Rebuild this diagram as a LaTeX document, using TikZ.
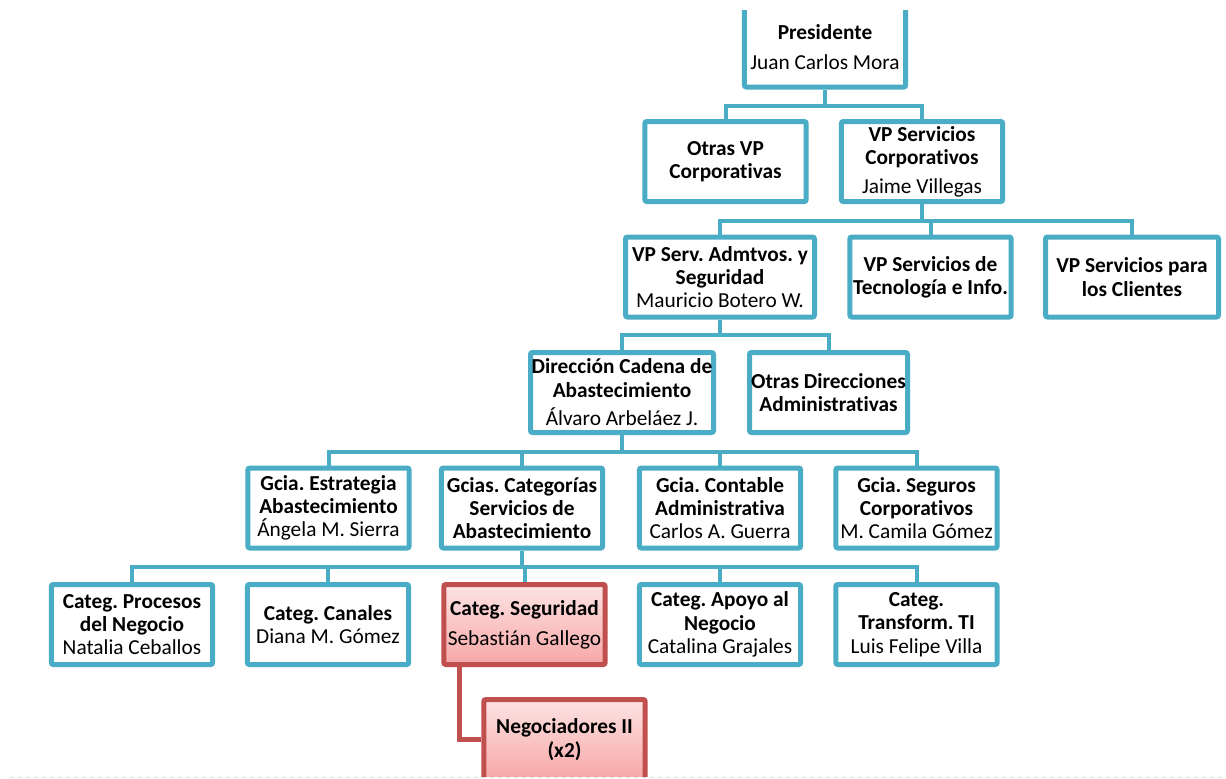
\documentclass[tikz,border=0pt]{standalone}
\usepackage{fontspec}
\setmainfont[Ligatures=NoCommon]{Carlito}
\frenchspacing
\definecolor{orgline}{HTML}{4BACC6}
\definecolor{selline}{HTML}{C0504D}
\definecolor{seltop}{HTML}{FDE3E3}
\definecolor{selbot}{HTML}{F7A7A7}
\begin{document}
\begin{tikzpicture}[x=0.75pt,y=-0.75pt,
  box/.style={draw=orgline,line width=3.75pt,fill=white,rounded corners=1.5pt,align=center,
    inner sep=0pt,minimum width=121pt,minimum height=60pt,font=\fontsize{16}{17.5}\selectfont},
  selbox/.style={box,draw=selline,top color=seltop,bottom color=selbot},
  link/.style={draw=orgline,line width=3pt},
  sellink/.style={draw=selline,line width=3.75pt}]
\useasboundingbox (0,0) rectangle (1226,778);
\draw[dashed,gray!25,line width=0.75pt] (10,777) -- (1226,777);
\clip (0,10) rectangle (1226,776);

\node[box] (pres) at (825,47) {\textbf{Presidente}\\[5pt]Juan Carlos Mora};

\node[box] (otrasvp) at (725.5,161.5) {\textbf{Otras VP}\\\textbf{Corporativas}};
\node[box] (vpcorp) at (922,161.5) {\textbf{VP Servicios}\\\textbf{Corporativos}\\[4pt]Jaime Villegas};

\node[box,minimum width=141.75pt] (vpadm) at (720,277) {\textbf{VP Serv. Admtvos. y}\\\textbf{Seguridad}\\Mauricio Botero W.};
\node[box] (vptec) at (930.5,277) {\textbf{VP Servicios de}\\\textbf{Tecnología e Info.}};
\node[box,minimum width=129.75pt] (vpcli) at (1132,277) {\textbf{VP Servicios para}\\\textbf{los Clientes}};

\node[box,minimum width=137.25pt] (dircad) at (622,392.5) {\textbf{Dirección Cadena de}\\\textbf{Abastecimiento}\\[4pt]Álvaro Arbeláez J.};
\node[box,minimum width=118.5pt] (otrasdir) at (828.5,392.5) {\textbf{Otras Direcciones}\\\textbf{Administrativas}};

\node[box] (gest) at (328.5,508) {\textbf{Gcia. Estrategia}\\\textbf{Abastecimiento}\\Ángela M. Sierra};
\node[box] (gcat) at (522,508) {\textbf{Gcias. Categorías}\\\textbf{Servicios de}\\\textbf{Abastecimiento}};
\node[box] (gcont) at (720,508) {\textbf{Gcia. Contable}\\\textbf{Administrativa}\\Carlos A. Guerra};
\node[box] (gseg) at (916.5,508) {\textbf{Gcia. Seguros}\\\textbf{Corporativos}\\M. Camila Gómez};

\node[box] (cproc) at (132,624.5) {\textbf{Categ. Procesos}\\\textbf{del Negocio}\\Natalia Ceballos};
\node[box] (ccan) at (328,624.5) {\textbf{Categ. Canales}\\Diana M. Gómez};
\node[selbox] (cseg) at (524.5,624.5) {\textbf{Categ. Seguridad}\\[5pt]Sebastián Gallego};
\node[box] (capo) at (720,624.5) {\textbf{Categ. Apoyo al}\\\textbf{Negocio}\\Catalina Grajales};
\node[box] (ctra) at (916.5,624.5) {\textbf{Categ.}\\\textbf{Transform. TI}\\Luis Felipe Villa};

\node[selbox] (nego) at (564.5,739.5) {\textbf{Negociadores II}\\\textbf{(x2)}};

\coordinate (b1) at (825,106);
\coordinate (b2) at (922,221);
\coordinate (b3) at (720,335);
\coordinate (b4) at (622,452);
\coordinate (b5) at (522,567);
\coordinate (sfoot) at (459,665);

\draw[link] (pres) -- (b1);
\draw[link] (b1) -| (otrasvp);
\draw[link] (b1) -| (vpcorp);

\draw[link] (vpcorp) -- (b2);
\draw[link] (b2) -| (vpadm);
\draw[link] (b2) -| (vptec);
\draw[link] (b2) -| (vpcli);

\draw[link] (vpadm) -- (b3);
\draw[link] (b3) -| (dircad);
\draw[link] (b3) -| (otrasdir);

\draw[link] (dircad) -- (b4);
\draw[link] (b4) -| (gest);
\draw[link] (b4) -| (gcat);
\draw[link] (b4) -| (gcont);
\draw[link] (b4) -| (gseg);

\draw[link] (gcat) -- (b5);
\draw[link] (b5) -| (cproc);
\draw[link] (b5) -| (ccan);
\draw[link] (b5) -| (cseg);
\draw[link] (b5) -| (capo);
\draw[link] (b5) -| (ctra);

\draw[sellink] (sfoot) |- (nego);
\end{tikzpicture}
\end{document}
